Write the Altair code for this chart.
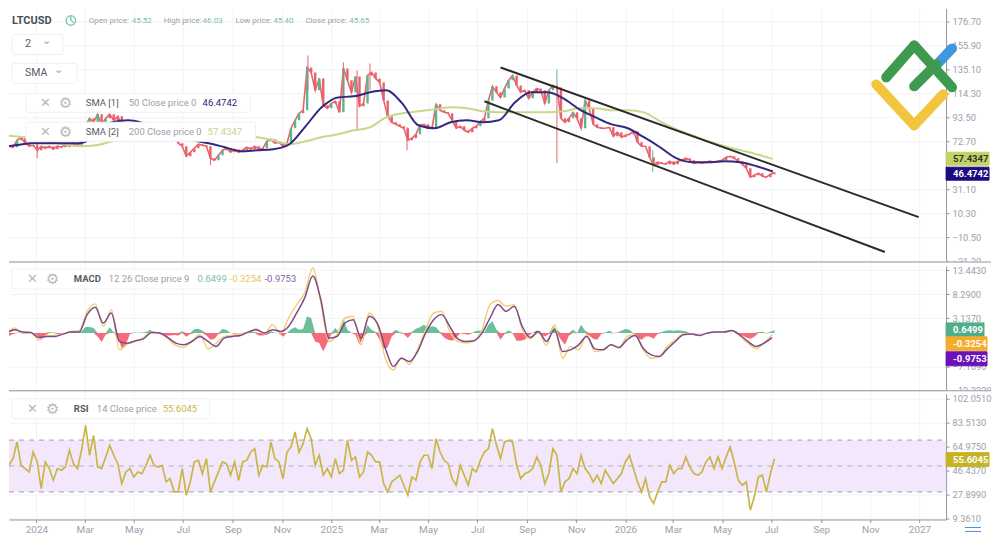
import altair as alt
import pandas as pd

FONT = "Roboto"
GREY = "#9aa0ab"

# closing price, one reading every 5 days
close = [68.4,67.5,73.6,76.2,71,68.4,69.2,64.9,68.4,66.6,68.4,65.8,68.4,67.5,70.1,68.4,71,68.4,73.6,86.6,
         92.6,89.2,96.1,86.6,92.6,96.1,90.9,94.4,87.4,84.8,86.6,84,81.4,83.1,79.6,82.2,78.8,80.5,77,79.6,
         76.2,77.9,71,68.4,59.7,63.2,66.6,70.1,69.2,68.4,58,56.2,60.6,64.9,66.6,63.2,65.8,63.2,64.9,67.5,
         65.8,68.4,65.8,66.6,72.7,74.4,71,71.8,68.4,71,84,90.9,97,99.6,136.8,132.5,116.9,127.3,103.9,101.3,
         105.6,107.4,97.8,136,125.6,115.2,129,103,105.6,129.9,132.5,127.3,123.8,108.2,94.4,89.2,87.4,85.7,84,73.6,
         75.3,78.8,86.6,87.4,84.8,84,104.8,99.6,97.8,97,90.9,84,85.7,82.2,80.5,84,85.7,90,92.6,108.2,
         120.4,115.2,110.8,118.6,125.6,129.9,121.2,115.2,116.9,110,115.2,118.6,116.9,105.6,116.9,121.2,119.5,92.6,89.2,92.6,
         97.8,92.6,84,108.2,101.3,87.4,84.8,84,84,84.8,77,80.5,76.2,77.9,78.8,81.4,71.8,68.4,68.4,58.8,
         51.9,54.5,53.6,52.8,55.4,52.8,55.4,56.2,58,56.2,53.6,54.5,53.6,54.5,55.4,54.5,55.4,56.2,58.8,59.7,
         58,55.4,52.8,49.3,41.5,43.2,45,42.4,41.5,44.1,45.65]

# the long wicks that stand out from the bodies
wick_dates = ["2024-01-02","2024-08-04","2024-12-03","2025-01-16","2025-02-02","2025-02-18","2025-04-05","2025-10-08","2025-10-08","2026-02-04"]
wick_high = [73.6,68.4,147.2,141.2,134.2,140.3,85,135.1,121,64.9]
wick_low = [58,51.9,116.9,108,82.2,117,64.9,121,53.6,45.8]
wick_dir = ["down","down","down","down","down","down","down","up","down","up"]

# moving averages, one reading every 20 days
sma50 = [67.5,69.2,71,71,71,71,77.9,89.2,90.9,88.3,84,77.9,73.6,71,67.5,64,64.9,65.8,70.1,85.7,
         102.2,110.8,111.7,115.2,116.9,105.6,86.6,84,89.2,90.9,89.2,90.9,106.5,115.2,115.2,110,100.4,93.5,87.4,84,
         76.2,67.5,58,54.5,54.5,55.4,54.5,51,46.47]
sma200 = [77.9,77,75.3,72.7,70.1,68.4,69.2,72.7,75.3,77.9,79.6,80.5,81.4,80.5,79.6,77.9,76.2,73.6,70.1,72.7,
          76.2,78.8,82.2,84.8,93.5,97,98.7,100.4,102.2,101.3,98.7,97.8,97.8,97.8,97.8,98.7,101.3,101.3,99.6,99.6,
          97.8,90,83.1,77.9,72.7,68.4,64.9,61.4,57.43]

# channel drawn on the price
channel_dates = ["2025-07-30","2026-12-31","2025-07-10","2026-11-19"]
channel_price = [136.8,6.8,107.4,-23.5]
channel_name = ["upper","upper","lower","lower"]

# macd lines, one reading every 10 days
macd_slow = [-.01,.71,.2,.13,-.94,-.73,-.73,-.23,.2,.2,3.93,5.5,2.14,4.28,-1.8,-2.16,-1.66,-1.23,.13,-.01,
             -.94,-2.16,-2.52,-1.8,-.73,-1.8,-2.87,-1.08,-.73,-.51,.2,.71,-.01,.71,.35,1.42,4.28,7.5,12.16,7.15,
             -1.08,-.73,2.14,2.85,-1.08,3.57,2.14,-3.23,-7.17,-5.38,-6.1,-3.95,-.01,2.85,3.93,1.42,-1.23,-1.8,-1.66,-.01,
             3.21,6.07,4.64,5.71,1.42,-.94,.35,-1.8,.71,-3.95,-3.59,-2.52,-.73,-3.38,-3.59,-2.52,-3.09,-1.44,-.51,-3.23,
             -4.66,-5.02,-3.38,-1.8,-.37,-.23,-.51,-.01,.2,.2,.55,-.37,-1.8,-2.87,-2.16,-.9753]
macd_fast = [-.23,1.06,-.01,.13,-1.44,-.58,-.51,-.23,.35,.49,4.64,6.22,1.42,5,-3.59,-2.37,-1.8,-.94,.2,-.01,
             -1.23,-2.66,-3.09,-1.66,-.37,-3.38,-2.16,-.8,-.51,-.23,.2,.92,-.23,1.78,-.01,3.21,6.07,8.58,13.94,6.43,
             -1.8,-.37,3.21,3.57,-2.52,4.28,1.78,-5.38,-7.88,-5.24,-6.67,-3.59,.71,4.28,4.64,.35,-1.8,-2.16,-1.66,.71,
             6.07,6.93,5.71,6.07,.71,-1.23,.2,-2.66,1.78,-5.38,-2.87,-3.59,-.37,-3.95,-3.59,-2.52,-3.23,-.73,-.37,-3.59,
             -5.38,-5.02,-2.87,-1.44,-.15,-.23,-.51,-.01,.2,.2,.55,-.73,-2.16,-3.38,-2.16,-.3254]

# macd histogram, one reading every 5 days
macd_hist = [-.64,-.21,.07,.14,-.21,-.07,0,-.5,-1.43,-.5,.21,.14,-.21,-.14,0,.29,.21,.14,.36,1.29,
             1.29,1.07,-.72,-1.93,-.36,1.22,.14,-.72,-3.36,-2.51,-.21,.14,.07,.14,.21,.64,.21,.14,0,-.5,
             -.5,-.43,-.5,.36,-.79,-.21,.79,.93,.5,-.5,-1.43,-1.22,-.21,.93,.64,0,-.14,-.07,.07,.14,
             .21,.21,-.5,-.5,-.36,.36,.07,-.07,-.79,0,.79,1.22,.72,.86,3.58,3.22,-1.79,-2.15,-3.94,-2.15,
             -.21,1.07,0,3.22,.72,.07,-.36,-2.51,-.72,1.65,.72,.21,-1.43,-3.36,-3.08,-.72,.72,.21,-.21,-1.07,
             .21,.93,1.22,1.79,1.22,1.43,1.22,.21,-.93,-1.43,-1.65,-.93,-.07,-.21,-.36,.07,.5,.5,.21,1.79,
             2.51,.72,-1.43,-.21,.57,-.07,-1.65,-1.65,-1.43,-.5,.07,.57,-.21,-.72,-.21,1.43,.72,-1.43,-2.51,-.5,
             .72,-.07,1.79,.5,-.5,-1.22,-1.43,-.21,.14,.5,-.07,.14,.5,.86,.72,-.07,-1.07,-1.43,-.72,-.72,
             -1.22,-.21,.21,.5,.57,.5,.57,.5,.36,0,-.07,-.07,-.07,0,.07,.07,0,0,.07,.07,
             0,-.21,-.5,-.93,-1.22,-.79,.21,.29,-.07,.29,.65]

# rsi, one reading every 5 days
rsi = [50.5,55.7,68.6,50.5,48,45.4,60.8,53.1,32.5,53.1,48,39,48,46.7,49.2,62.1,51.8,48,62.1,81.4,
       58.3,73.7,49.2,48,57,66,58.3,51.8,36.4,45.4,48,41.5,45.4,44.1,50.5,58.3,50.5,49.2,50.5,37.7,
       40.2,29.9,29.9,48,27.4,37.7,53.1,54.4,44.1,55.7,29.9,37.7,45.4,53.1,51.8,42.8,53.1,39,53.1,54.4,
       60.8,63.4,42.8,50.5,49.2,68.6,55.7,53.1,40.2,60.8,64.7,76.3,60.8,67.3,78.9,71.1,50.5,58.3,42.8,48,
       41.5,55.7,44.1,46.7,69.8,54.4,57,41.5,45.4,60.8,58.3,53.1,53.1,36.4,29.9,37.7,40.2,42.8,35.1,27.4,
       41.5,39,53.1,58.3,58.3,48,71.1,60.8,54.4,51.8,40.2,35.1,50.5,42.8,35.1,48,45.4,54.4,60.8,63.4,
       78.9,66,55.7,68.6,69.8,68.6,50.5,40.2,44.1,45.4,48,57,50.5,36.4,44.1,63.4,58.3,29.9,37.7,40.2,
       48,44.1,58.3,48,44.1,37.7,42.8,36.4,46.7,41.5,36.4,40.2,44.1,53.1,58.3,48,37.7,29.9,40.2,26.1,
       20.9,29.9,37.7,37.7,50.5,44.1,48,48,57,49.2,44.1,42.8,45.4,53.1,57,48,57,48,57,64.7,
       53.1,39,35.1,37.7,15.8,26.1,41.5,42.8,29.9,44.1,55.6]
rsi_levels = [70, 50, 30]
rsi_band = {"hi": [70], "lo": [30]}

price_ticks = [176.7,155.9,135.1,114.3,93.5,72.7,31.1,10.3,-10.5,-31.3]
macd_ticks = [13.443,8.29,3.137,-7.169,-12.322]
rsi_ticks = [102.051,83.513,64.975,46.437,27.899,9.361]

x_domain = ["2023-11-28T00:00:00", "2027-02-03T00:00:00"]
W = 939

days5 = pd.date_range("2023-11-28", periods=len(close), freq="5D")
candles = pd.DataFrame({"date": days5, "close": close})
candles["open"] = candles["close"].shift(1).fillna(candles["close"])
candles["dir"] = ["up" if c - o > 3.5 else "down" for c, o in zip(candles["close"], candles["open"])]
wicks = pd.DataFrame({"date": pd.to_datetime(wick_dates), "high": wick_high, "low": wick_low, "dir": wick_dir})
sma = pd.DataFrame({"date": pd.date_range("2023-11-16", periods=len(sma50), freq="20D"), "sma50": sma50, "sma200": sma200})
channel = pd.DataFrame({"date": pd.to_datetime(channel_dates), "price": channel_price, "name": channel_name})
lines = pd.DataFrame({"date": pd.date_range("2023-11-25", periods=len(macd_slow), freq="10D"), "slow": macd_slow, "fast": macd_fast})
hist = pd.DataFrame({"date": days5, "pos": [max(v, 0) for v in macd_hist], "neg": [min(v, 0) for v in macd_hist]})
rsi_df = pd.DataFrame({"date": days5, "rsi": rsi})
levels = pd.DataFrame({"level": rsi_levels})
band = pd.DataFrame(rsi_band)
one = pd.DataFrame({"a": [1]})

dir_color = alt.Color("dir:N", scale=alt.Scale(domain=["up", "down"], range=["#5db58e", "#e8626c"]), legend=None)


def X(field="date:T", labels=False):
    if labels:
        axis = alt.Axis(title=None, orient="bottom", tickCount={"interval": "month", "step": 2}, labelOverlap=False,
                        labelExpr="month(datum.value)==0 ? timeFormat(datum.value,'%Y') : timeFormat(datum.value,'%b')",
                        gridColor="#f2f3f8", domainColor="#8f959e", tickColor="#8f959e", tickSize=3,
                        labelColor=GREY, labelFont=FONT, labelFontSize=10, labelPadding=2)
    else:
        axis = alt.Axis(title=None, tickCount={"interval": "month", "step": 2}, labels=False, ticks=False, domain=False, gridColor="#f2f3f8")
    return alt.X(field, axis=axis, scale=alt.Scale(domain=x_domain))


def Y(field, domain, ticks, fmt):
    return alt.Y(field, scale=alt.Scale(domain=domain, nice=False, zero=False),
                 axis=alt.Axis(title=None, orient="right", values=ticks, format=fmt, labelOverlap=False, gridColor="#f2f3f8",
                               domainColor="#8f959e", tickColor="#8f959e", tickSize=3, labelPadding=3,
                               labelColor=GREY, labelFont=FONT, labelFontSize=9.3))


def box(x, y, x2, y2, fill="white", stroke="#eef0f3", radius=2):
    return alt.Chart(one).mark_rect(fill=fill, stroke=stroke, cornerRadius=radius).encode(
        x=alt.value(x), x2=alt.value(x2), y=alt.value(y), y2=alt.value(y2))


def txt(s, x, y, color="#9aa0ab", size=9.5, weight="normal", font=FONT):
    return alt.Chart(one).mark_text(text=s, align="left", baseline="middle", color=color, fontSize=size,
                                    fontWeight=weight, font=font).encode(x=alt.value(x), y=alt.value(y))


def seg(x, y, x2, y2, color, width=1, cap="butt"):
    return alt.Chart(one).mark_rule(color=color, strokeWidth=width, strokeCap=cap).encode(
        x=alt.value(x), y=alt.value(y), x2=alt.value(x2), y2=alt.value(y2))


def tag(s, y, y2, x2, fill, color="white"):
    return box(939, y, x2, y2, fill=fill, stroke=fill, radius=0) + txt(s, 946, (y + y2) / 2, color, 9.5, "bold")


def icons(x, y):
    return (txt("\u2715", x, y, "#b4b8bf", 13, font="DejaVu Sans") +
            txt("\u2699", x + 19, y, "#b4b8bf", 15, font="DejaVu Sans"))


# price panel, panel coordinates are picture coordinates minus 8
py = [-32.17, 187.97]
price = alt.layer(
    alt.Chart(candles).mark_line(color="#e8626c", strokeWidth=1.6, clip=True).encode(X(), Y("close:Q", py, price_ticks, ".2f")),
    alt.Chart(candles).mark_rule(strokeWidth=2.4, clip=True).encode(X(), Y("open:Q", py, price_ticks, ".2f"), y2="close:Q", color=dir_color),
    alt.Chart(wicks).mark_rule(strokeWidth=1, clip=True).encode(X(), Y("high:Q", py, price_ticks, ".2f"), y2="low:Q", color=dir_color),
    alt.Chart(sma).mark_line(color="#c6d88c", strokeWidth=2, clip=True, interpolate="monotone").encode(X(), Y("sma200:Q", py, price_ticks, ".2f")),
    alt.Chart(sma).mark_line(color="#32297e", strokeWidth=2, clip=True, interpolate="monotone").encode(X(), Y("sma50:Q", py, price_ticks, ".2f")),
    alt.Chart(channel).mark_line(color="#2b2b2b", strokeWidth=2).encode(X(), Y("price:Q", py, price_ticks, ".2f"), detail="name:N"),
    txt("LTCUSD", 3, 12, "#4a4f57", 11, "bold"),
    alt.Chart(one).mark_point(shape="circle", size=90, color="#4fb08a", strokeWidth=1.4).encode(x=alt.value(62), y=alt.value(12)),
    seg(62, 8, 62, 12, "#4fb08a"), seg(62, 12, 65, 14, "#4fb08a"),
    txt("Open price:", 80, 12, size=8), txt("45.52", 123, 12, "#7cc0a2", 8),
    txt("High price:", 155, 12, size=8), txt("46.03", 194, 12, "#7cc0a2", 8),
    txt("Low price:", 227, 12, size=8), txt("45.40", 265, 12, "#7cc0a2", 8),
    txt("Close price:", 297, 12, size=8), txt("45.65", 341, 12, "#7cc0a2", 8),
    box(3, 26, 54, 46), txt("2", 16, 36, "#555b64", 11), txt("\u2304", 33, 33, "#9aa0ab", 11, font="DejaVu Sans"),
    box(3, 55, 68, 75), txt("SMA", 16, 65, "#555b64", 10.5), txt("\u2304", 45, 62, "#9aa0ab", 11, font="DejaVu Sans"),
    box(17, 85, 242, 104), icons(31, 94.5), txt("SMA [1]", 77, 94.5, "#555b64"), txt("50 Close price 0", 120, 94.5), txt("46.4742", 194, 94.5, "#2b2376"),
    box(17, 114, 247, 133), icons(31, 123.5), txt("SMA [2]", 77, 123.5, "#555b64"), txt("200 Close price 0", 120, 123.5), txt("57.4347", 199, 123.5, "#c6d48a"),
    seg(929, 57, 945, 40, "#4097dd", 10, "round"),
    seg(879, 69, 907, 37, "#3d9a4e", 10, "round"), seg(907, 37, 945, 79, "#3d9a4e", 10, "round"), seg(907, 78, 929, 56, "#3d9a4e", 10, "round"),
    seg(869, 76, 907, 117, "#f2c53d", 10, "round"), seg(907, 117, 936, 86, "#f2c53d", 10, "round"),
    tag("57.4347", 144, 157, 982, "#c2d465", "#333333"),
    tag("46.4742", 159, 172, 982, "#1d0b80"),
).properties(width=W, height=254)

# macd panel
my = [-12.322, 15.16]
macd = alt.layer(
    alt.Chart(hist).mark_area(color="#6cbf9b").encode(X(), Y("pos:Q", my, macd_ticks, ".4f"), y2=alt.datum(0)),
    alt.Chart(hist).mark_area(color="#f56b7a").encode(X(), Y("neg:Q", my, macd_ticks, ".4f"), y2=alt.datum(0)),
    alt.Chart(lines).mark_line(color="#f3cf73", strokeWidth=1.4, clip=True, interpolate="monotone").encode(X(), Y("fast:Q", my, macd_ticks, ".4f")),
    alt.Chart(lines).mark_line(color="#7d4a8e", strokeWidth=1.5, clip=True, interpolate="monotone").encode(X(), Y("slow:Q", my, macd_ticks, ".4f")),
    box(939, 0, 984, 4, stroke="white", radius=0),
    seg(0, 0, 984, 0, "#8f959e"),
    box(3, 7, 297, 27), icons(18, 17), txt("MACD", 65, 17, "#555b64", 9.5, "bold"), txt("12 26 Close price 9", 100, 17),
    txt("0.6499", 189, 17, "#7cc0a2"), txt("-0.3254", 221, 17, "#e8c65d"), txt("-0.9753", 256, 17, "#8a5ea0"),
    tag("0.6499", 61, 75, 977, "#4fae8a"),
    tag("-0.3254", 75, 89, 980, "#f5ab2c"),
    tag("-0.9753", 90, 104, 980, "#6a12b8"),
).properties(width=W, height=129)

# rsi panel
ry = [8.59, 108.2]
rsi_panel = alt.layer(
    alt.Chart(band).mark_rect(fill="#f3e8fb").encode(Y("hi:Q", ry, rsi_ticks, ".4f"), y2="lo:Q", x=alt.value(0), x2=alt.value(W)),
    alt.Chart(levels).mark_rule(color="#b9aabb", strokeWidth=1.2, strokeDash=[5, 5]).encode(
        Y("level:Q", ry, rsi_ticks, ".4f"), x=alt.value(0), x2=alt.value(W)),
    alt.Chart(rsi_df).mark_line(color="#c9b548", strokeWidth=1.7, clip=True).encode(X(labels=True), Y("rsi:Q", ry, rsi_ticks, ".4f")),
    box(939, 0, 984, 3, stroke="white", radius=0),
    seg(0, 0, 984, 0, "#8f959e"),
    box(3, 8, 201, 28), icons(18, 18), txt("RSI", 65, 18, "#555b64", 9.5, "bold"), txt("14 Close price", 88, 18), txt("55.6045", 154, 18, "#c9b548"),
    tag("55.6045", 62, 76, 982, "#c5b322"),
    seg(958, 137, 974, 137, "#4097dd"), seg(958, 141, 974, 141, "#4097dd"),
).properties(width=W, height=129)

chart = alt.vconcat(price, macd, rsi_panel, spacing=0, bounds="flush").properties(padding=0).configure_view(stroke=None).configure_axis(grid=True)

chart.save("out.html", embed_options={"renderer": "svg", "actions": False})
